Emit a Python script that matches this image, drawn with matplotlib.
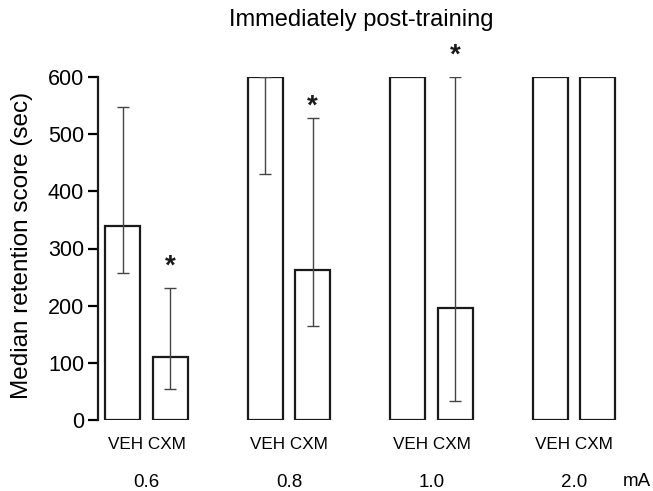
import numpy as np
import matplotlib
matplotlib.use("Agg")
import matplotlib.pyplot as plt
import matplotlib.transforms as mtransforms

plt.rcParams['font.family'] = ['Liberation Sans', 'DejaVu Sans']

# Données
doses = ['0.6', '0.8', '1.0', '2.0']
veh = [340, 600, 600, 600]
cxm = [110, 262, 196, 600]
veh_low = [257, 430, np.nan, np.nan]
veh_high = [547, 600, np.nan, np.nan]
cxm_low = [54, 165, 34, np.nan]
cxm_high = [231, 529, 600, np.nan]
star_y = [269, 548, 637, np.nan]

fig = plt.figure(figsize=(6.53, 4.91), dpi=100)
ax = fig.add_axes([98 / 653, 1 - 420 / 491, 11.12 * 47.5 / 653, 343 / 491])

x_veh = np.arange(len(doses)) * 3.0
x_cxm = x_veh + 1.0
w = 0.74

ax.bar(x_veh, veh, width=w, facecolor='white', edgecolor='#1a1a1a', linewidth=1.6, zorder=2)
ax.bar(x_cxm, cxm, width=w, facecolor='white', edgecolor='#1a1a1a', linewidth=1.6, zorder=2)


def err(vals, low, high):
    vals = np.array(vals, float)
    return np.vstack([vals - np.array(low), np.array(high) - vals])


ax.errorbar(x_veh, veh, yerr=err(veh, veh_low, veh_high), fmt='none',
            ecolor='#444444', elinewidth=1.0, capsize=4.5, capthick=1.0, zorder=3)
ax.errorbar(x_cxm, cxm, yerr=err(cxm, cxm_low, cxm_high), fmt='none',
            ecolor='#444444', elinewidth=1.0, capsize=4.5, capthick=1.0, zorder=3)

# astérisques
for xc, ys in zip(x_cxm, star_y):
    if not np.isnan(ys):
        ax.text(xc, ys, '*', ha='center', va='center', fontsize=20,
                fontweight='bold', color='#1a1a1a', clip_on=False)

ax.set_xlim(-0.52, 10.6)
ax.set_ylim(0, 600)
ax.set_yticks([0, 100, 200, 300, 400, 500, 600])
ax.tick_params(axis='y', labelsize=15.5, length=7, width=1.6, direction='out', pad=3)
ax.set_xticks([])
for s in ['top', 'right', 'bottom']:
    ax.spines[s].set_visible(False)
ax.spines['left'].set_linewidth(1.6)
ax.spines['left'].set_color('#1a1a1a')

trans = mtransforms.blended_transform_factory(ax.transData, ax.transAxes)
for xv, d in zip(x_veh, doses):
    ax.text(xv + 0.5, -0.07, 'VEH CXM', transform=trans, ha='center', va='center', fontsize=12.3)
    ax.text(xv + 0.5, -0.181, d, transform=trans, ha='center', va='center', fontsize=13.5)
ax.text(637 / 653, 1 - 482 / 491, 'mA', transform=fig.transFigure, ha='center', va='center', fontsize=13.5)

fig.text(361.5 / 653, 1 - 20 / 491, 'Immediately post-training', ha='center', va='center', fontsize=17)
fig.text(21.7 / 653, 1 - 245 / 491, 'Median retention score (sec)', rotation=90,
         ha='center', va='center', fontsize=17.5)

fig.savefig('out.png', dpi=100)
